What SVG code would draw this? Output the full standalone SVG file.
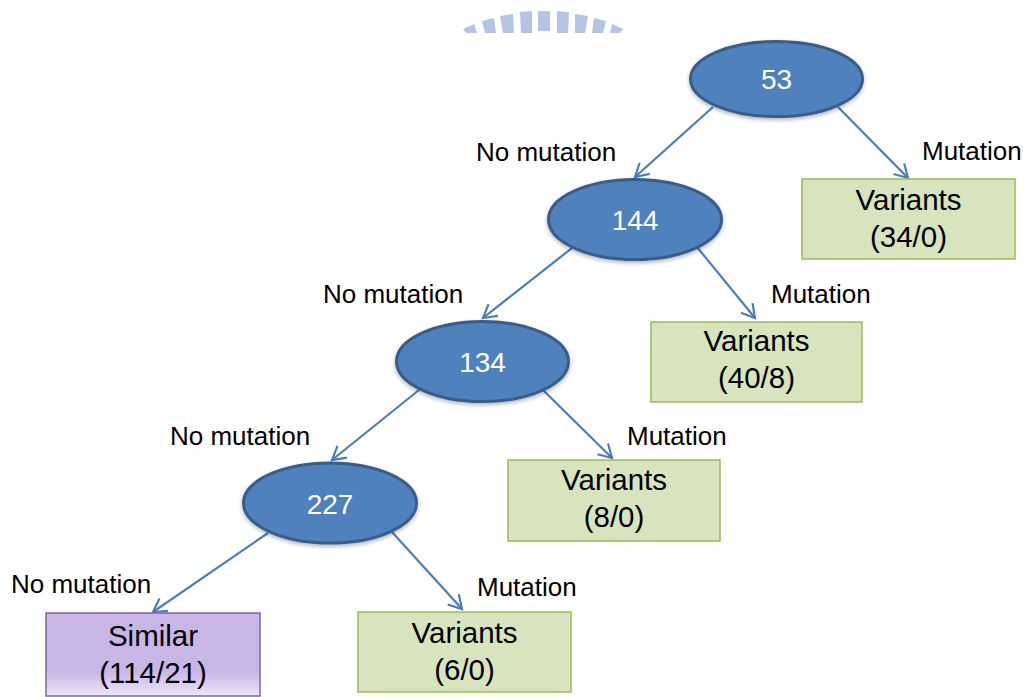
<svg xmlns="http://www.w3.org/2000/svg" width="1031" height="697" viewBox="0 0 1031 697">
<style>
.ell{fill:#4f81bd;stroke:#385d8a;stroke-width:3}
.num{font-family:"Liberation Sans",Arial,sans-serif;font-size:28px;fill:#ffffff;text-anchor:middle}
.var{fill:#d7e4bd;stroke:#9bbb59;stroke-width:1.5}
.sim{fill:url(#simg);stroke:#8064a2;stroke-width:1.5}
.bt{font-family:"Liberation Sans",Arial,sans-serif;font-size:29.5px;fill:#000;text-anchor:middle}
.lbl{font-family:"Liberation Sans",Arial,sans-serif;font-size:26px;fill:#000}
.con{stroke:#4a7ebb;stroke-width:2.2;fill:none;marker-end:url(#ah)}
.wm{fill:#b4c5e4}
</style>
<defs>
<marker id="ah" markerUnits="userSpaceOnUse" markerWidth="20" markerHeight="20" viewBox="0 0 20 20" refX="16" refY="10" orient="auto">
<path d="M3,2.5 L16,10 L3,17.5" fill="none" stroke="#4a7ebb" stroke-width="2.2"/>
</marker>
<linearGradient id="simg" x1="0" y1="0" x2="0" y2="1">
<stop offset="0" stop-color="#c8b6e6"/>
<stop offset="0.7" stop-color="#c8b6e6"/>
<stop offset="1" stop-color="#ede6f7"/>
</linearGradient>
<filter id="sh" x="-10%" y="-10%" width="120%" height="130%">
<feGaussianBlur in="SourceAlpha" stdDeviation="2"/>
<feOffset dy="2"/>
<feComponentTransfer><feFuncA type="linear" slope="0.3"/></feComponentTransfer>
<feMerge><feMergeNode/><feMergeNode in="SourceGraphic"/></feMerge>
</filter>
</defs>
<g id="watermark">
<polygon class="wm" points="463,29 474,24 477,33 466,33"/>
<polygon class="wm" points="482,21 494,18 496,33 485,33"/>
<polygon class="wm" points="500,16 513,14 514,33 503,33"/>
<polygon class="wm" points="520,12 532,11 532,33 521,33"/>
<polygon class="wm" points="538,11 550,11 550,31 538,31"/>
<polygon class="wm" points="557,11 569,12 568,33 557,33"/>
<polygon class="wm" points="575,14 588,16 585,33 575,33"/>
<polygon class="wm" points="594,18 606,21 603,33 592,33"/>
<polygon class="wm" points="612,24 623,29 620,33 610,33"/>
</g>
<g id="connectors">
<path class="con" d="M713,107 L635,177"/>
<path class="con" d="M838,107 L908,178"/>
<path class="con" d="M572,248 L483,318"/>
<path class="con" d="M697,247 L755,318"/>
<path class="con" d="M419,390 L332,460"/>
<path class="con" d="M543,390 L612,458"/>
<path class="con" d="M268,533 L153,612"/>
<path class="con" d="M392,532 L462,609"/>
</g>
<g id="labels">
<text class="lbl" x="476" y="161">No mutation</text>
<text class="lbl" x="922" y="160">Mutation</text>
<text class="lbl" x="323" y="303">No mutation</text>
<text class="lbl" x="771" y="303">Mutation</text>
<text class="lbl" x="170" y="445">No mutation</text>
<text class="lbl" x="627" y="445">Mutation</text>
<text class="lbl" x="11" y="593">No mutation</text>
<text class="lbl" x="477" y="596">Mutation</text>
</g>
<g id="n53"><ellipse class="ell" filter="url(#sh)" cx="776.5" cy="79" rx="86" ry="37.5"/><text class="num" x="776.5" y="89">53</text></g>
<g id="n144"><ellipse class="ell" filter="url(#sh)" cx="635" cy="219.5" rx="86.5" ry="40"/><text class="num" x="635" y="230">144</text></g>
<g id="n134"><ellipse class="ell" filter="url(#sh)" cx="482.5" cy="361.5" rx="86" ry="40"/><text class="num" x="482.5" y="372">134</text></g>
<g id="n227"><ellipse class="ell" filter="url(#sh)" cx="330" cy="503" rx="86.5" ry="40"/><text class="num" x="330" y="513.5">227</text></g>
<g id="v34"><rect class="var" x="802" y="179" width="213" height="80"/><text class="bt" x="908.5" y="210">Variants</text><text class="bt" x="908.5" y="247">(34/0)</text></g>
<g id="v40"><rect class="var" x="651" y="322" width="211" height="80"/><text class="bt" x="756.5" y="351">Variants</text><text class="bt" x="756.5" y="388">(40/8)</text></g>
<g id="v8"><rect class="var" x="508" y="460" width="212" height="81"/><text class="bt" x="614" y="490">Variants</text><text class="bt" x="614" y="527">(8/0)</text></g>
<g id="v6"><rect class="var" x="358" y="612" width="213" height="80"/><text class="bt" x="464.5" y="643">Variants</text><text class="bt" x="464.5" y="680">(6/0)</text></g>
<g id="sim"><rect class="sim" x="46" y="613" width="214" height="83"/><text class="bt" x="153" y="646">Similar</text><text class="bt" x="153" y="683">(114/21)</text></g>
</svg>
